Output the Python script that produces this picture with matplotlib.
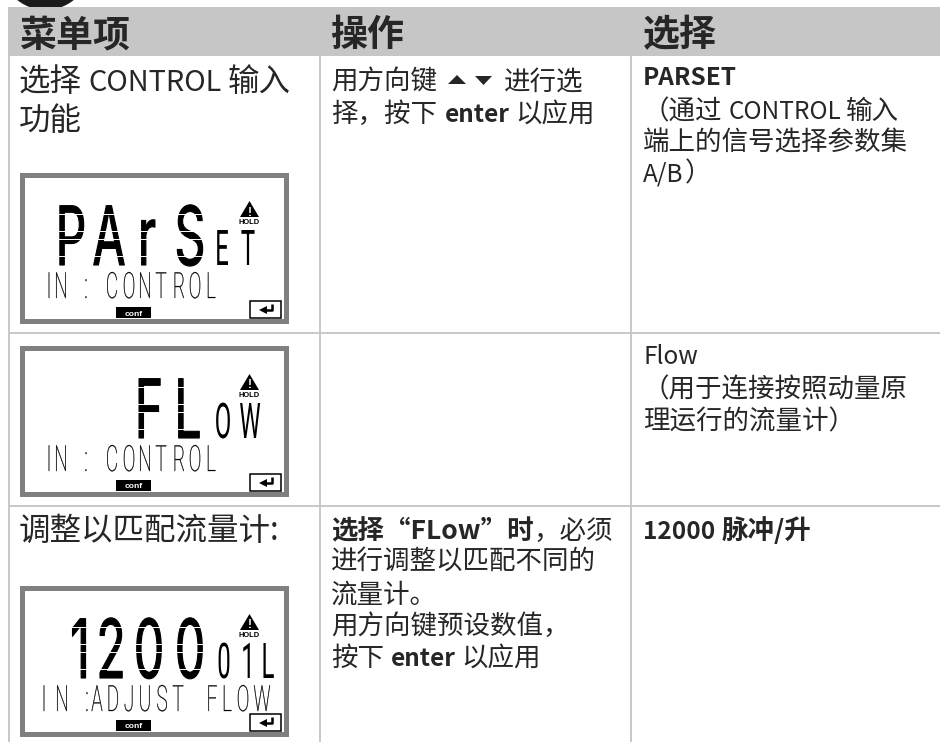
import matplotlib
matplotlib.use("Agg")
import matplotlib.pyplot as plt
from matplotlib.patches import Circle, Rectangle, Polygon
from matplotlib.patheffects import AbstractPathEffect
from matplotlib.transforms import Affine2D

# table text, one run per (text, bold, gap after in px); latin runs are set smaller
headers = ["菜单项", "操作", "选择"]
menu_lines = [
    (91, [("选择", False, 6), ("CONTROL", False, 6), ("输入", False, 0)]),
    (130, [("功能", False, 0)]),
    (540, [("调整以匹配流量计:", False, 0)]),
]
action_lines = [
    (90, [("用方向键", False, 67), ("进行选", False, 0)]),
    (122, [("择，按下", False, 8), ("enter", True, 5), ("以应用", False, 0)]),
    (539, [("选择“FLow”时", True, 0), ("，必须", False, 0)]),
    (569, [("进行调整以匹配不同的", False, 0)]),
    (603, [("流量计。", False, 0)]),
    (634, [("用方向键预设数值，", False, 0)]),
    (666, [("按下", False, 7), ("enter", True, 5), ("以应用", False, 0)]),
]
choice_lines = [
    (85, [("PARSET", True, 0)]),
    (119, [("（通过", False, 6), ("CONTROL", False, 5), ("输入", False, 0)]),
    (151, [("端上的信号选择参数集", False, 0)]),
    (181, [("A/B", False, 1), ("）", False, 0)]),
    (364, [("Flow", False, 0)]),
    (397, [("（用于连接按照动量原", False, 0)]),
    (429, [("理运行的流量计）", False, 0)]),
    (539, [("12000", True, 6), ("脉冲/升", True, 0)]),
]
latin_runs = ["CONTROL", "enter", "PARSET", "A/B", "Flow", "12000"]

# LCD readouts: frame top, big chars, small chars, bottom line
lcd_tops = [172, 345, 585]
lcd_big = [
    [("P", 71), ("A", 109), ("r", 147), ("S", 190)],
    [("F", 149), ("L", 188)],
    [("1", 80), ("2", 111), ("0", 149), ("0", 190)],
]
lcd_mid = [
    [("E", 222), ("T", 248)],
    [("O", 223), ("W", 250)],
    [("0", 224), ("1", 248), ("L", 268)],
]
lcd_low = [
    [("I", 49), ("N", 61), (":", 86), ("C", 112), ("O", 129), ("N", 145), ("T", 161), ("R", 179), ("O", 195), ("L", 211)],
    [("I", 49), ("N", 61), (":", 86), ("C", 112), ("O", 129), ("N", 145), ("T", 161), ("R", 179), ("O", 195), ("L", 211)],
    [("I", 44), ("N", 62), (":", 87), ("A", 97), ("D", 113), ("J", 129), ("U", 145), ("S", 162), ("T", 178),
     ("F", 212), ("L", 227), ("O", 243), ("W", 262)],
]

grey = "#c6c6c6"
ink = "#262626"
family = ["Noto Sans CJK SC", "DejaVu Sans"]
latin_scale = 0.92


class Stretch(AbstractPathEffect):
    # tall glyphs for the LCD, they stay real text
    def __init__(self, sy=1.0, lw=0.0):
        super().__init__()
        self.sy = sy
        self.lw = lw

    def draw_path(self, renderer, gc, tpath, affine, rgbFace=None):
        gc0 = renderer.new_gc()
        gc0.copy_properties(gc)
        gc0.set_linewidth(self.lw)
        gc0.set_foreground(rgbFace)
        gc0.set_snap(False)
        renderer.draw_path(gc0, tpath, Affine2D().scale(1, self.sy) + affine, rgbFace)
        gc0.restore()


def pt(px):
    return px * 0.72


fig = plt.figure(figsize=(9.4, 7.42), dpi=100)
ax = fig.add_axes([0, 0, 1, 1])
ax.set_xlim(0, 940)
ax.set_ylim(742, 0)
ax.axis("off")
renderer = fig.canvas.get_renderer()


def runs(x, y, items, px):
    for text, bold, gap in items:
        size = px * latin_scale if text in latin_runs else px
        t = ax.text(x, y, text, fontsize=pt(size), family=family, color=ink, va="baseline", ha="left",
                    fontweight="bold" if bold else "normal")
        x += t.get_window_extent(renderer).width + gap


# page tab and header band
ax.add_patch(Circle((45.5, -35), 45, color="#1a1a1a", lw=0))
ax.add_patch(Rectangle((8, 7), 932, 49, color=grey, lw=0))
for x, head in zip([19, 330, 643], headers):
    ax.text(x, 46, head, fontsize=pt(37), family=family, fontweight="bold", color=ink, va="baseline")

# grid
for x in [9, 320, 631]:
    ax.plot([x, x], [56, 742], color="#c8c8c8", lw=1.4, solid_capstyle="butt")
for y in [333, 506]:
    ax.plot([9, 940], [y, y], color="#c8c8c8", lw=1.4, solid_capstyle="butt")

for y, items in menu_lines:
    runs(19, y, items, 31.5)
for y, items in action_lines:
    runs(331, y, items, 26.5)
for y, items in choice_lines:
    runs(643, y, items, 26.5)

# arrow keys in the first action line
ax.add_patch(Polygon([(457, 75), (448, 84), (466, 84)], color=ink, lw=0))
ax.add_patch(Polygon([(475, 76), (492, 76), (483.5, 85)], color=ink, lw=0))

# LCDs
for top, big, mid, low in zip(lcd_tops, lcd_big, lcd_mid, lcd_low):
    ax.add_patch(Rectangle((21.5, top + 2.5), 264, 146, fc="white", ec="#808080", lw=3.6))
    for ch, x in big:
        ax.text(x, top + 93, ch, fontsize=pt(48), family="Inter", color="black", ha="center",
                va="baseline", path_effects=[Stretch(sy=1.7, lw=0.8)])
        # small gaps between the segments
        for dy in [9, 26, 34, 51]:
            ax.plot([x - 18, x + 18], [top + 33 + dy] * 2, color="white", lw=0.7, solid_capstyle="butt", zorder=3)
    for ch, x in mid:
        ax.text(x, top + 93, ch, fontsize=pt(24), family="Roboto", color="black", ha="center",
                va="baseline", path_effects=[Stretch(sy=2.05)])
    for ch, x in low:
        ax.text(x, top + 126, ch, fontsize=pt(19), family="Roboto", fontweight="light", color="black", ha="center",
                va="baseline", path_effects=[Stretch(sy=1.9, lw=0.2)])
    # warning sign with HOLD
    ax.add_patch(Polygon([(249.5, top + 29), (240, top + 45), (259, top + 45)], color="black", lw=0))
    ax.text(249.5, top + 43.5, "!", fontsize=pt(12), family="Liberation Sans", fontweight="bold", color="white",
            ha="center", va="baseline")
    ax.text(249.5, top + 52, "HOLD", fontsize=pt(7.5), family="Liberation Sans", fontweight="bold", color="black",
            ha="center", va="baseline")
    # conf flag
    ax.add_patch(Rectangle((116, top + 135), 35, 11, color="black", lw=0))
    ax.text(133.5, top + 143.5, "conf", fontsize=pt(8.5), family="Liberation Sans", fontweight="bold",
            color="white", ha="center", va="baseline")
    # enter key
    ax.add_patch(Rectangle((250, top + 129), 30.5, 17, fc="white", ec="black", lw=1.1))
    ax.plot([272, 272, 262], [top + 132, top + 138, top + 138], color="black", lw=1.8, solid_capstyle="butt")
    ax.add_patch(Polygon([(259, top + 138), (267, top + 134), (267, top + 142)], color="black", lw=0))

fig.savefig("out.png", dpi=100)
